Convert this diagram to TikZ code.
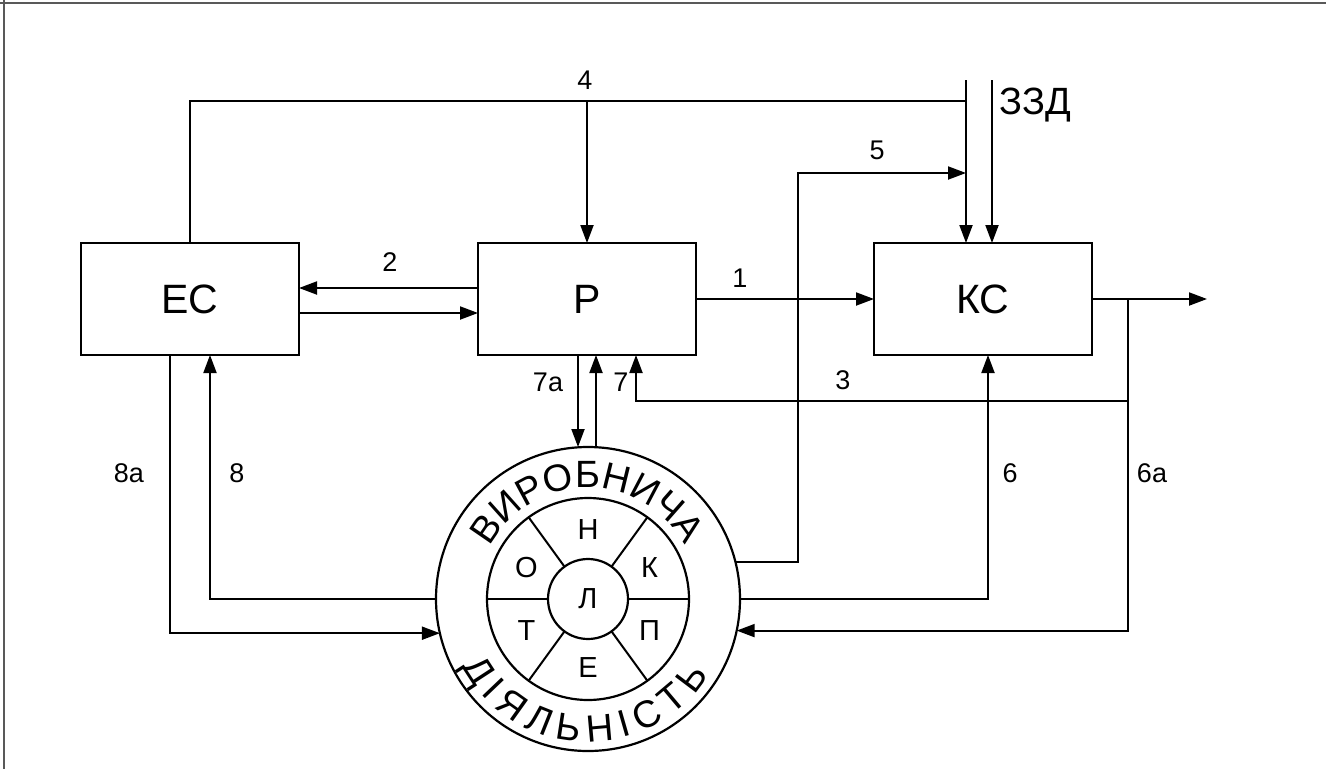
\documentclass[tikz,border=0pt]{standalone}
\usepackage{fontspec}
\setmainfont{Liberation Sans}
\usetikzlibrary{arrows.meta, decorations.text}

\newcommand\blokfont{\fontsize{41}{45}\selectfont}
\newcommand\mitkafont{\fontsize{27}{30}\selectfont}
\newcommand\kilcefont{\fontsize{38}{42}\selectfont}
\newcommand\sektorfont{\fontsize{29}{32}\selectfont}

\begin{document}
\begin{tikzpicture}[
        x=1pt, y=1pt,
        blok/.style={rectangle, draw, line width=2.2pt, minimum width=218pt, minimum height=112pt, outer sep=0pt, font=\blokfont},
        kolo/.style={circle, draw, line width=2.2pt, inner sep=0pt, outer sep=0pt},
        mitka/.style={font=\mitkafont, inner sep=1pt},
        litera/.style={font=\sektorfont, inner sep=0pt},
        liniya/.style={line width=2pt},
        strilka/.style={-{Triangle[length=18pt, width=13pt]}, line width=2pt}
    ]
    \useasboundingbox (0,0) rectangle (1326,-769);
    % Scan frame
    \draw[line width=2pt, black!65] (0,-3) -- (1326,-3);
    \draw[line width=2pt, black!65] (4,0) -- (4,-769);
%
    % Blocks
    \node[blok] (ES) at (190,-299) {ЕС};
    \node[blok] (P) at (587,-299) {Р};
    \node[blok] (KS) at (983,-299) {КС};
%
    % Production activity
    \node[kolo, minimum size=304pt] (vd) at (588,-599) {};
    \node[kolo, minimum size=202pt] (ser) at (vd.center) {};
    \node[kolo, minimum size=80pt, font=\sektorfont] (L) at (vd.center) {Л};
    \foreach \k in {0,54,126,180,234,306}
        \draw[liniya] (L.\k) -- (ser.\k);
    \begin{scope}[shift={(vd.center)}]
        \foreach \kut/\lit/\im in {90/Н/n, 27/К/k, -27/П/p, 270/Е/e, 207/Т/t, 153/О/o}
            \node[litera] (s\im) at (\kut:69) {\lit};
        \path[decorate, decoration={text along path, text format delimiters={|}{|},
            text={|\kilcefont|ВИРОБНИЧА}, text align=fit to path}]
            (152:111) arc[start angle=152, end angle=29, radius=111];
        \path[decorate, decoration={text along path, text format delimiters={|}{|},
            text={|\kilcefont|ДІЯЛЬНІСТЬ}, text align=fit to path}]
            (208:143) arc[start angle=208, end angle=328, radius=143];
    \end{scope}
%
    % Helper points
    \coordinate (v1) at (966,-80);
    \coordinate (v2) at (992,-80);
    \coordinate (h4) at (190,-101);
    \coordinate (h5) at (798,-173);
    \coordinate (rozg) at (1128,-299);
    \coordinate (h3) at (1128,-401);
    \coordinate (vyh) at (1207,-299);
%
    % Arrows
    \draw[liniya] (ES.north) |- (h4 -| v1);
    \draw[strilka] (h4 -| P.north) -- (P.north);
    \draw[strilka] (v1) -- (v1 |- KS.north);
    \draw[strilka] (v2) -- (v2 |- KS.north);
    \draw[strilka] (vd.14) -| (h5) -- (h5 -| v1);
    \draw[strilka] ([yshift=11]P.west) -- ([yshift=11]P.west -| ES.east);
    \draw[strilka] ([yshift=-14]ES.east) -- ([yshift=-14]ES.east -| P.west);
    \draw[strilka] (P.east) -- (KS.west);
    \draw[strilka] (KS.east) -- (vyh);
    \draw[strilka] (rozg) |- (vd.-12.5);
    \draw[strilka] (h3) -| ([xshift=49]P.south);
    \draw[strilka] (vd.east) -| ([xshift=5]KS.south);
    \draw[strilka] ([xshift=-9]P.south) -- ([xshift=-9]P.south |- vd.north);
    \draw[strilka] ([xshift=9]P.south |- vd.north) -- ([xshift=9]P.south);
    \draw[strilka] ([xshift=-20]ES.south) |- (vd.-167.5);
    \draw[strilka] (vd.west) -| ([xshift=20]ES.south);
%
    % Labels
    \node[mitka] (m4) at (585,-80) {4};
    \node[mitka] (m5) at (877,-150) {5};
    \node[mitka] (m2) at (390,-262) {2};
    \node[mitka] (m1) at (740,-278) {1};
    \node[mitka] (m3) at (843,-380) {3};
    \node[mitka] (m7a) at (548,-382) {7а};
    \node[mitka] (m7) at (621,-382) {7};
    \node[mitka] (m8a) at (129,-473) {8а};
    \node[mitka] (m8) at (237,-473) {8};
    \node[mitka] (m6) at (1010,-473) {6};
    \node[mitka] (m6a) at (1152,-473) {6а};
    \node[font=\kilcefont, anchor=base west, inner sep=0pt] (zzd) at (999,-114) {ЗЗД};
\end{tikzpicture}
\end{document}
